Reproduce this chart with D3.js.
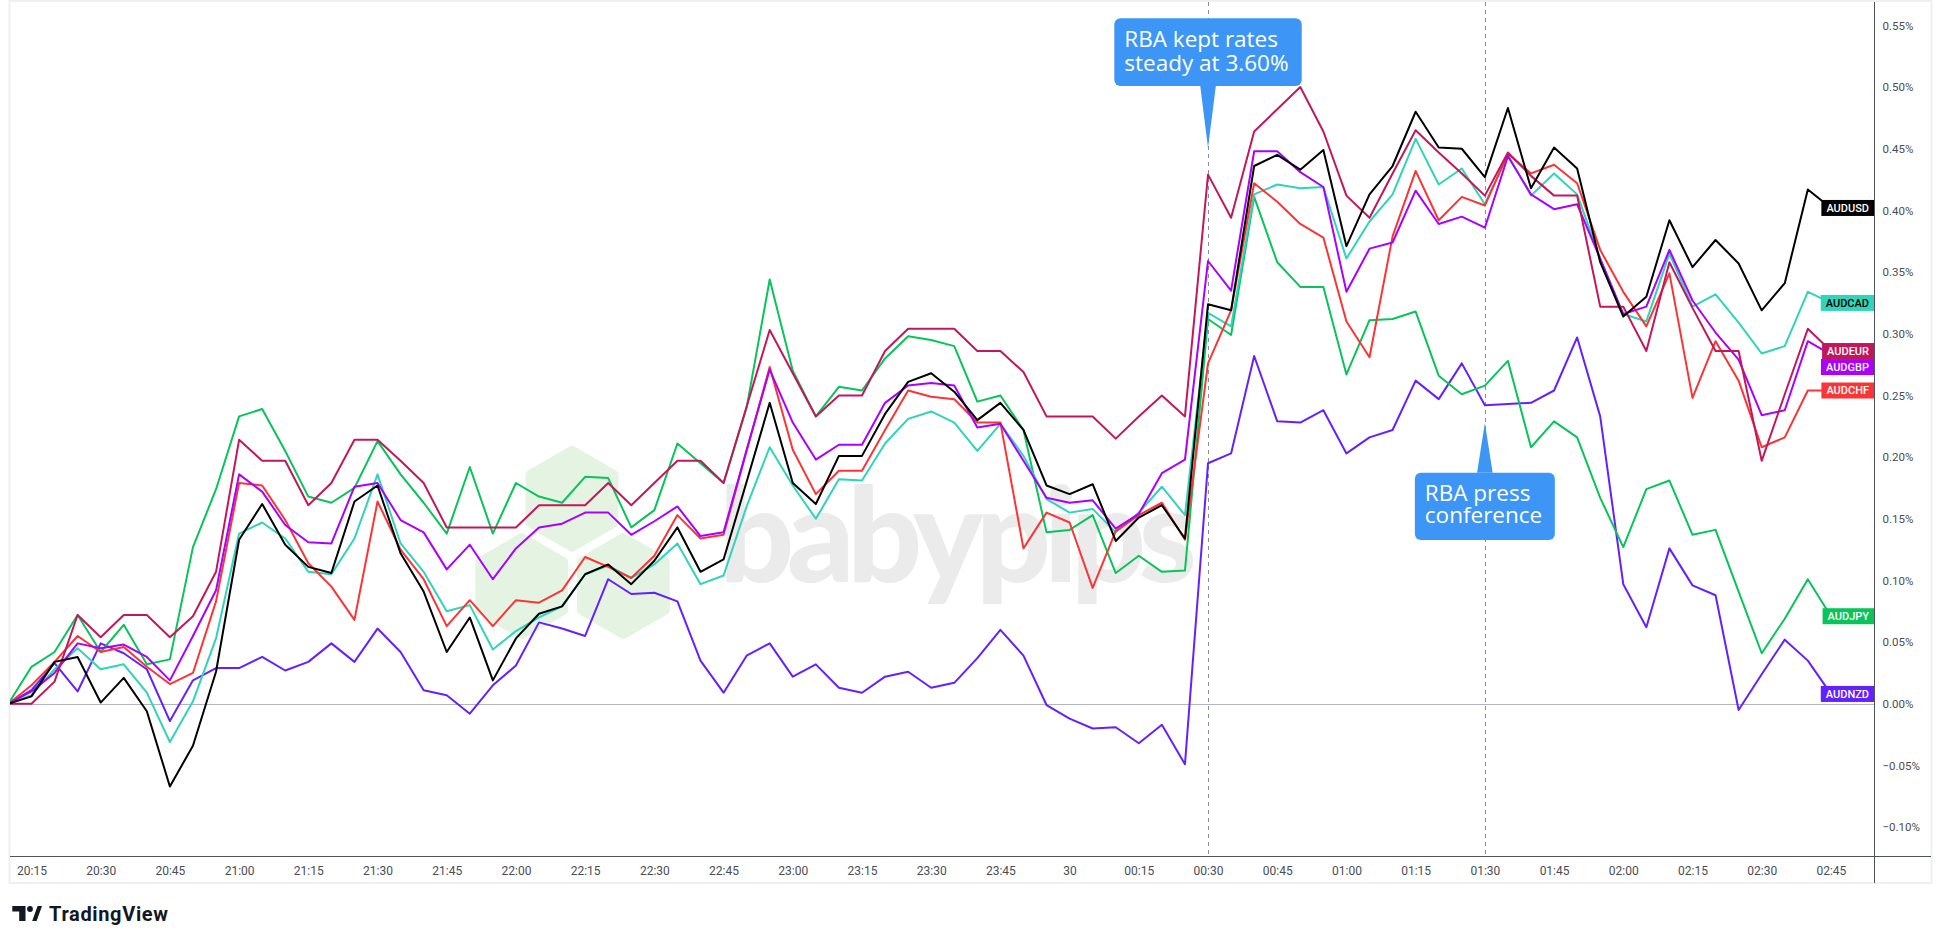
<!DOCTYPE html>
<html>
<head>
<meta charset="utf-8">
<script src="https://cdn.jsdelivr.net/npm/d3@7"></script>
<style>
  body { margin: 0; background: #fff; }
  svg { display: block; }
</style>
</head>
<body>
<svg width="1940" height="944"></svg>
<script>
/* % change from 20:10, one value every 5 minutes up to 02:45 */
var audusd = [0,0.006,0.034,0.038,0.001,0.021,-0.006,-0.067,-0.034,0.026,
  0.133,0.162,0.129,0.111,0.106,0.164,0.177,0.122,0.091,0.042,
  0.070,0.019,0.053,0.073,0.079,0.105,0.113,0.097,0.116,0.143,
  0.107,0.117,0.180,0.244,0.179,0.162,0.201,0.201,0.235,0.261,
  0.268,0.253,0.230,0.244,0.222,0.177,0.170,0.178,0.132,0.151,
  0.161,0.134,0.324,0.319,0.436,0.445,0.433,0.449,0.371,0.413,
  0.436,0.480,0.451,0.450,0.427,0.483,0.418,0.451,0.434,0.358,
  0.314,0.330,0.392,0.354,0.376,0.357,0.319,0.341,0.417,0.402];
var audcad = [0,0.007,0.028,0.045,0.028,0.032,0.009,-0.031,0.002,0.053,
  0.138,0.147,0.134,0.107,0.105,0.134,0.186,0.130,0.107,0.075,
  0.080,0.044,0.059,0.070,0.079,0.105,0.112,0.102,0.113,0.130,
  0.097,0.104,0.160,0.208,0.177,0.150,0.182,0.181,0.211,0.231,
  0.237,0.228,0.205,0.227,0.201,0.166,0.155,0.158,0.139,0.155,
  0.176,0.153,0.317,0.306,0.413,0.421,0.418,0.419,0.361,0.391,
  0.413,0.458,0.421,0.434,0.405,0.445,0.412,0.430,0.413,0.361,
  0.316,0.310,0.365,0.322,0.332,0.309,0.284,0.290,0.334,0.325];
var audeur = [0,0,0.018,0.072,0.054,0.072,0.072,0.054,0.071,0.107,
  0.214,0.197,0.197,0.161,0.179,0.214,0.214,0.197,0.179,0.143,
  0.143,0.143,0.143,0.161,0.161,0.161,0.179,0.161,0.179,0.197,
  0.197,0.179,0.241,0.303,0.268,0.233,0.250,0.250,0.286,0.304,
  0.304,0.304,0.286,0.286,0.269,0.233,0.233,0.233,0.215,0.233,
  0.250,0.233,0.429,0.394,0.464,0.482,0.500,0.464,0.412,0.394,
  0.430,0.465,0.447,0.430,0.412,0.447,0.428,0.412,0.412,0.322,
  0.322,0.286,0.358,0.321,0.286,0.286,0.197,0.251,0.304,0.286];
var audgbp = [0,0.010,0.025,0.049,0.045,0.048,0.038,0.019,0.055,0.092,
  0.186,0.172,0.145,0.131,0.130,0.176,0.179,0.149,0.139,0.109,
  0.129,0.101,0.126,0.143,0.146,0.155,0.155,0.137,0.148,0.160,
  0.136,0.139,0.206,0.271,0.228,0.198,0.210,0.210,0.244,0.258,
  0.260,0.258,0.224,0.227,0.197,0.167,0.163,0.165,0.142,0.154,
  0.187,0.198,0.359,0.335,0.448,0.448,0.431,0.419,0.334,0.369,
  0.374,0.416,0.389,0.395,0.386,0.444,0.413,0.401,0.405,0.361,
  0.316,0.322,0.368,0.327,0.301,0.279,0.234,0.238,0.294,0.283];
var audchf = [0,0.015,0.034,0.055,0.042,0.046,0.030,0.016,0.025,0.083,
  0.179,0.177,0.149,0.114,0.095,0.068,0.164,0.125,0.101,0.063,
  0.084,0.063,0.084,0.082,0.092,0.119,0.111,0.102,0.120,0.153,
  0.134,0.137,0.205,0.273,0.206,0.170,0.189,0.189,0.222,0.254,
  0.249,0.247,0.228,0.228,0.126,0.155,0.147,0.094,0.140,0.153,
  0.163,0.133,0.276,0.319,0.422,0.407,0.389,0.378,0.310,0.281,
  0.379,0.432,0.392,0.411,0.404,0.446,0.430,0.437,0.422,0.368,
  0.334,0.306,0.349,0.248,0.294,0.262,0.208,0.216,0.254,0.254];
var audjpy = [0,0.030,0.042,0.072,0.042,0.064,0.032,0.036,0.127,0.174,
  0.233,0.239,0.205,0.168,0.163,0.175,0.213,0.186,0.163,0.138,
  0.192,0.138,0.179,0.168,0.163,0.184,0.183,0.143,0.157,0.211,
  0.195,0.179,0.240,0.344,0.270,0.233,0.257,0.254,0.280,0.298,
  0.295,0.290,0.245,0.250,0.222,0.139,0.141,0.153,0.106,0.120,
  0.107,0.108,0.312,0.299,0.411,0.358,0.338,0.338,0.267,0.311,
  0.312,0.318,0.266,0.251,0.258,0.278,0.208,0.229,0.216,0.167,
  0.127,0.174,0.181,0.137,0.141,0.091,0.041,0.069,0.101,0.071];
var audnzd = [0,0.011,0.033,0.010,0.049,0.041,0.028,-0.014,0.019,0.029,
  0.029,0.038,0.027,0.034,0.049,0.034,0.061,0.042,0.011,0.007,
  -0.008,0.015,0.031,0.066,0.061,0.055,0.101,0.089,0.090,0.083,
  0.035,0.009,0.039,0.049,0.022,0.032,0.013,0.009,0.022,0.026,
  0.013,0.017,0.037,0.060,0.039,-0.001,-0.012,-0.020,-0.019,-0.032,
  -0.017,-0.049,0.195,0.203,0.282,0.229,0.228,0.238,0.203,0.216,
  0.222,0.262,0.247,0.276,0.242,0.243,0.244,0.254,0.297,0.233,
  0.097,0.062,0.126,0.096,0.088,-0.005,0.024,0.052,0.035,0.008];

var seriesNames = ["AUDNZD", "AUDJPY", "AUDCAD", "AUDCHF", "AUDGBP", "AUDEUR", "AUDUSD"];
var seriesValues = [audnzd, audjpy, audcad, audchf, audgbp, audeur, audusd];
var seriesColors = ["#6421ff", "#08c45a", "#2fd4ba", "#fb3535", "#aa00ff", "#c2185b", "#000000"];
var labelTextColors = ["#fff", "#fff", "#000", "#fff", "#fff", "#fff", "#fff"];

var xTickLabels = ["20:15","20:30","20:45","21:00","21:15","21:30","21:45","22:00","22:15",
  "22:30","22:45","23:00","23:15","23:30","23:45","30","00:15","00:30","00:45",
  "01:00","01:15","01:30","01:45","02:00","02:15","02:30","02:45"];
var yTicks = [-0.10,-0.05,0,0.05,0.10,0.15,0.20,0.25,0.30,0.35,0.40,0.45,0.50,0.55];

var eventTimes = [new Date(2025, 8, 30, 0, 30), new Date(2025, 8, 30, 1, 30)];
var eventTexts = [["RBA kept rates", "steady at 3.60%"], ["RBA press", "conference"]];

/* layout */
var svg = d3.select("svg"),
    paneLeft = 10, paneRight = 1874, paneTop = 2, paneBottom = 856;

var start = new Date(2025, 8, 29, 20, 10),
    end = new Date(2025, 8, 30, 2, 45);
var times = d3.timeMinute.every(5).range(start, d3.timeMinute.offset(end, 1));

var x = d3.scaleTime().domain([start, end]).range([8.4, 1830.9]);
var y = d3.scaleLinear().domain([0, 0.55]).range([703.8, 25.4]);

/* outer frame */
svg.append("rect")
    .attr("x", 9.5).attr("y", 1).attr("width", 1922).attr("height", 882)
    .attr("fill", "none").attr("stroke", "#eef0f4").attr("stroke-width", 2);

/* babypips watermark */
var wm = svg.append("g");
[[572, 498.7], [521.7, 586], [623.3, 586]].forEach(function(c) {
  var pts = d3.range(6).map(function(k) {
    var a = Math.PI / 3 * k - Math.PI / 2;
    return [c[0] + 49 * Math.cos(a), c[1] + 49 * Math.sin(a)];
  });
  wm.append("path")
      .attr("d", "M" + pts.join("L") + "Z")
      .attr("fill", "#e5f4e2")
      .attr("stroke", "#e5f4e2")
      .attr("stroke-width", 8)
      .attr("stroke-linejoin", "round");
});
wm.append("text")
    .attr("x", 719).attr("y", 581.5)
    .attr("textLength", 478)
    .attr("font-family", "Lato, sans-serif")
    .attr("font-weight", 900)
    .attr("font-size", 132)
    .attr("fill", "#ebebeb")
    .text("babypips");

/* zero line */
svg.append("line")
    .attr("x1", paneLeft).attr("x2", paneRight)
    .attr("y1", Math.round(y(0)) + 0.5).attr("y2", Math.round(y(0)) + 0.5)
    .attr("stroke", "#b2b5be");

/* event lines */
svg.selectAll(".event")
  .data(eventTimes)
  .enter().append("line")
    .attr("x1", function(d) { return Math.round(x(d)) + 0.5; })
    .attr("x2", function(d) { return Math.round(x(d)) + 0.5; })
    .attr("y1", paneTop).attr("y2", paneBottom)
    .attr("stroke", "#8a8d96")
    .attr("stroke-dasharray", "4,4");

/* series */
svg.append("clipPath").attr("id", "pane")
  .append("rect")
    .attr("x", paneLeft).attr("y", paneTop)
    .attr("width", paneRight - paneLeft).attr("height", paneBottom - paneTop);

var line = d3.line()
    .x(function(d, i) { return x(times[i]); })
    .y(function(d) { return y(d); });

svg.append("g").attr("clip-path", "url(#pane)")
  .selectAll("path")
  .data(seriesValues)
  .enter().append("path")
    .attr("fill", "none")
    .attr("stroke", function(d, i) { return seriesColors[i]; })
    .attr("stroke-width", 2)
    .attr("stroke-linejoin", "round")
    .attr("d", line);

/* callouts */
var calloutBoxes = [
  {top: 18.3, height: 67.7, width: 187.4, tip: 148, lineGap: 24, first: 28.4},
  {top: 472.7, height: 67.3, width: 140, tip: 423, lineGap: 22.3, first: 28.3}
];
eventTimes.forEach(function(t, k) {
  var b = calloutBoxes[k], cx = x(t), g = svg.append("g");
  var baseY = b.tip > b.top ? b.top + b.height : b.top;
  g.append("path")
      .attr("d", "M" + (cx - 7.8) + "," + baseY + "L" + cx + "," + b.tip + "L" + (cx + 7.8) + "," + baseY + "Z")
      .attr("fill", "#3d96f5");
  g.append("rect")
      .attr("x", cx - b.width / 2).attr("y", b.top)
      .attr("width", b.width).attr("height", b.height)
      .attr("rx", 6)
      .attr("fill", "#3d96f5");
  g.selectAll("text")
    .data(eventTexts[k])
    .enter().append("text")
      .attr("x", cx - b.width / 2 + 10)
      .attr("y", function(d, j) { return b.top + b.first + j * b.lineGap; })
      .attr("font-family", "'Open Sans', sans-serif")
      .attr("font-size", 22.5)
      .attr("fill", "#fff")
      .text(function(d) { return d; });
});

/* last value labels, stacked when they collide */
var labels = seriesNames.map(function(n, i) {
  var v = seriesValues[i];
  return {name: n, color: seriesColors[i], text: labelTextColors[i], y: y(v[v.length - 1])};
}).sort(function(a, b) { return a.y - b.y; });
for (var k = 1; k < labels.length; k++) {
  labels[k].y = Math.max(labels[k].y, labels[k - 1].y + 16);
}
var lab = svg.selectAll(".lab")
  .data(labels)
  .enter().append("g");
lab.append("text")
    .attr("class", "lt")
    .attr("y", function(d) { return d.y; })
    .attr("dy", "0.36em")
    .attr("font-family", "Roboto, sans-serif")
    .attr("font-weight", 500)
    .attr("font-size", 11)
    .attr("fill", function(d) { return d.text; })
    .text(function(d) { return d.name; })
    .each(function(d) { d.w = this.getComputedTextLength(); })
    .attr("x", function(d) { return paneRight - d.w - 5; });
lab.insert("rect", "text")
    .attr("x", function(d) { return paneRight - d.w - 10; })
    .attr("y", function(d) { return d.y - 8; })
    .attr("width", function(d) { return d.w + 10; })
    .attr("height", 16)
    .attr("fill", function(d) { return d.color; });

/* axes */
var yAxis = svg.append("g")
    .attr("transform", "translate(" + paneRight + ",0)")
    .call(d3.axisRight(y).tickValues(yTicks).tickSize(0).tickPadding(8.5)
      .tickFormat(function(d) { return d3.format(".2f")(d) + "%"; }));
yAxis.select(".domain").remove();
yAxis.selectAll("text")
    .attr("font-family", "Roboto, sans-serif")
    .attr("font-size", 11.5)
    .attr("fill", "#4a4d57");

var xAxis = svg.append("g")
    .attr("transform", "translate(0," + paneBottom + ")")
    .call(d3.axisBottom(x)
      .tickValues(d3.timeMinute.every(15).range(d3.timeMinute.offset(start, 5), d3.timeMinute.offset(end, 1)))
      .tickSize(0).tickPadding(10)
      .tickFormat(function(d, i) { return xTickLabels[i]; }));
xAxis.select(".domain").remove();
xAxis.selectAll("text")
    .attr("font-family", "Roboto, sans-serif")
    .attr("font-size", 12)
    .attr("fill", "#4a4d57");

svg.append("line")
    .attr("x1", paneRight + 0.5).attr("x2", paneRight + 0.5)
    .attr("y1", 2).attr("y2", 883)
    .attr("stroke", "#50535e");
svg.append("line")
    .attr("x1", paneLeft).attr("x2", 1931)
    .attr("y1", paneBottom + 0.5).attr("y2", paneBottom + 0.5)
    .attr("stroke", "#50535e");

/* TradingView logo */
var logo = svg.append("g").attr("fill", "#131722");
logo.append("path").attr("d", "M12.3,906H25.5V921H19.2V911.6H12.3Z");
logo.append("circle").attr("cx", 30).attr("cy", 909).attr("r", 2.9);
logo.append("path").attr("d", "M32.2,921L37.6,906H42L36.6,921Z");
logo.append("text")
    .attr("x", 49).attr("y", 921)
    .attr("textLength", 119)
    .attr("font-family", "Roboto, sans-serif")
    .attr("font-weight", 700)
    .attr("font-size", 20)
    .text("TradingView");
</script>
</body>
</html>
